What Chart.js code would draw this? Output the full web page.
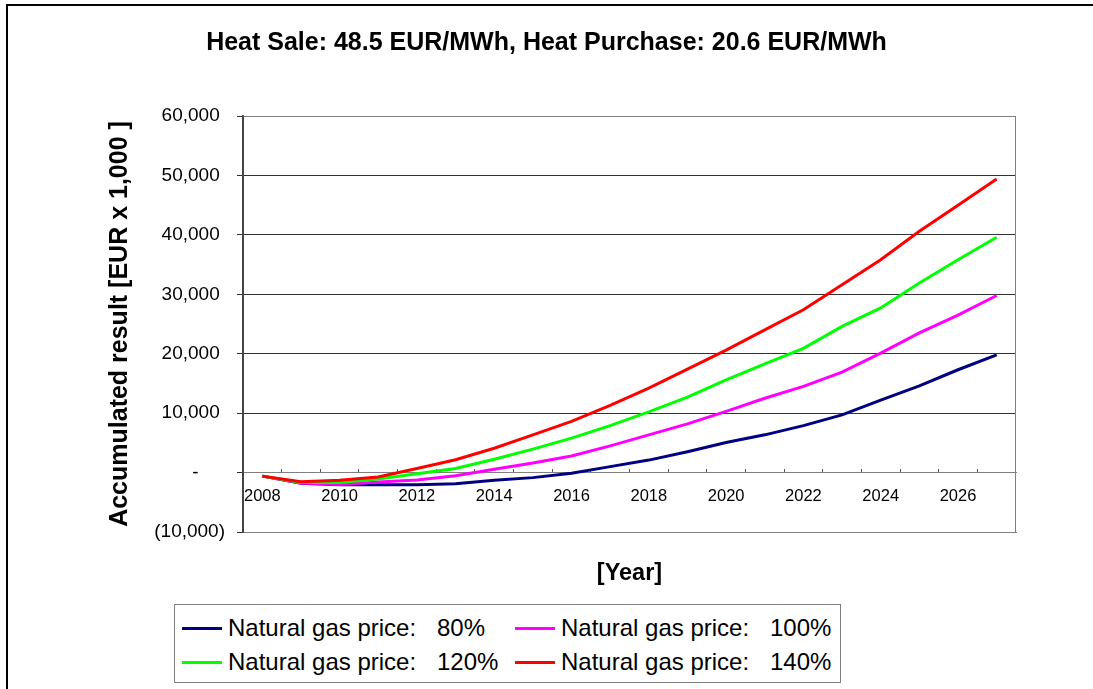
<!DOCTYPE html>
<html>
<head>
<meta charset="utf-8">
<script src="https://cdn.jsdelivr.net/npm/chart.js@4"></script>
<style>
  html, body { margin: 0; padding: 0; overflow: hidden; background: #fff; }
  #frame { position: absolute; left: 6px; top: 4px; width: 1200px; height: 800px; border: 2px solid #000; }
  #wrap { position: absolute; left: 0; top: 0; width: 1093px; height: 689px; }
  #legend {
    position: absolute; left: 174px; top: 604px; width: 665px; height: 77px;
    border: 1px solid #808080; background: #fff;
    font-family: "Liberation Sans", Arial, sans-serif; font-size: 24px; color: #000;
  }
  .item { position: absolute; height: 30px; }
  .swatch { position: absolute; left: 0; top: 14px; width: 40px; height: 3px; }
  .name { position: absolute; left: 46px; top: 0; line-height: 30px; white-space: nowrap; }
  .pct { position: absolute; left: 255px; top: 0; line-height: 30px; white-space: nowrap; }
</style>
</head>
<body>
<div id="frame"></div>
<div id="wrap"><canvas id="myChart"></canvas></div>
<div id="legend"></div>
<script>
const years = ["2008", "2009", "2010", "2011", "2012", "2013", "2014", "2015", "2016", "2017",
  "2018", "2019", "2020", "2021", "2022", "2023", "2024", "2025", "2026", "2027"];

const priceLevels = ["80%", "100%", "120%", "140%"];
const seriesColors = ["#000080", "#ff00ff", "#00ff00", "#ff0000"];

// accumulated result, EUR x 1,000
const gas80 = [-600, -1800, -2070, -2070, -2050, -1900, -1300, -850, -100, 1000,
  2100, 3500, 5050, 6350, 7900, 9700, 12200, 14600, 17300, 19800];
const gas100 = [-600, -1750, -2000, -1600, -1230, -550, 550, 1600, 2800, 4500,
  6350, 8200, 10300, 12500, 14500, 16900, 20100, 23500, 26500, 29800];
const gas120 = [-600, -1650, -1650, -1100, -200, 700, 2250, 3950, 5800, 7900,
  10200, 12700, 15600, 18300, 20900, 24600, 27700, 31900, 35800, 39600];
const gas140 = [-600, -1550, -1300, -750, 700, 2150, 4100, 6350, 8600, 11300,
  14200, 17400, 20600, 24000, 27400, 31600, 35800, 40600, 45000, 49400];

const yTicks = [-10000, 0, 10000, 20000, 30000, 40000, 50000, 60000];

const allSeries = [gas80, gas100, gas120, gas140];

function fmtNumber(v) {
  if (v === 0) return "-\u2007\u2007 ";
  const s = Math.abs(v).toLocaleString("en-US");
  return v < 0 ? "(" + s + ")" : s + " ";
}

// draws top and right edge of the plot area
const plotFrame = {
  id: "plotFrame",
  beforeDatasetsDraw(chart) {
    const { ctx, chartArea: a } = chart;
    ctx.save();
    ctx.strokeStyle = "#808080";
    ctx.lineWidth = 1;
    ctx.beginPath();
    ctx.moveTo(a.left, a.top + 0.5);
    ctx.lineTo(a.right - 0.5, a.top + 0.5);
    ctx.lineTo(a.right - 0.5, a.bottom);
    ctx.stroke();
    ctx.restore();
  },
};

Chart.defaults.font.family = '"Liberation Sans", Arial, sans-serif';
Chart.defaults.color = "#000";

const ctx = document.getElementById("myChart").getContext("2d");
const chart = new Chart(ctx, {
  type: "line",
  data: {
    labels: years,
    datasets: allSeries.map((data, i) => ({
      label: "Natural gas price:   " + priceLevels[i],
      data: data,
      borderColor: seriesColors[i],
      backgroundColor: seriesColors[i],
      borderWidth: 3,
      pointRadius: 0,
      tension: 0,
      order: allSeries.length - i,
      xAxisID: "x",
      yAxisID: "y",
    })),
  },
  options: {
    responsive: true,
    maintainAspectRatio: false,
    animation: false,
    layout: { padding: { left: 0, right: 0, top: 0, bottom: 100 } },
    plugins: {
      legend: { display: false },
      tooltip: { enabled: false },
      title: {
        display: true,
        text: "Heat Sale: 48.5 EUR/MWh, Heat Purchase: 20.6 EUR/MWh",
        font: { size: 25, weight: "bold" },
        padding: { top: 28, bottom: 58 },
      },
    },
    scales: {
      x: {
        type: "category",
        position: { y: 0 },
        offset: true,
        grid: {
          offset: true,
          drawOnChartArea: false,
          tickLength: -4,
          tickColor: "#555",
        },
        border: { color: "#808080", width: 1 },
        ticks: {
          autoSkip: false,
          maxRotation: 0,
          padding: 18,
          font: { size: 16.5 },
          callback: function (value, index) {
            return index % 2 === 0 ? this.getLabelForValue(value) : "";
          },
        },
      },
      x2: {
        type: "category",
        position: "bottom",
        labels: years,
        offset: true,
        grid: { display: false },
        ticks: { display: false },
        border: { color: "#808080", width: 1 },
        title: {
          display: true,
          text: "[Year]",
          font: { size: 23.5, weight: "bold" },
          padding: { top: 0, bottom: 1 },
        },
        afterFit: function (scale) {
          scale.height = 57;
        },
      },
      y: {
        min: -10000,
        max: 60000,
        afterBuildTicks: function (scale) {
          scale.ticks = yTicks.map((v) => ({ value: v }));
        },
        grid: {
          color: function (c) {
            const v = c.tick ? c.tick.value : null;
            return v === 60000 || v === -10000 || v === 0 ? "#808080" : "#333";
          },
          tickColor: "#333",
          tickLength: 6,
        },
        border: { color: "#444", width: 2 },
        ticks: {
          padding: 12,
          font: { size: 19 },
          callback: (v) => fmtNumber(v),
        },
        title: {
          display: true,
          text: "Accumulated result [EUR x 1,000 ]",
          font: { size: 25, weight: "bold" },
          padding: { top: 105, bottom: 0 },
        },
        afterFit: function (scale) {
          scale.width = 243;
        },
      },
      // empty right-hand box, keeps the plot area clear of the right margin
      yRight: {
        type: "linear",
        position: "right",
        min: -10000,
        max: 60000,
        grid: { display: false },
        ticks: { display: false },
        border: { display: false },
        afterFit: function (scale) {
          scale.width = 77;
        },
      },
    },
  },
  plugins: [plotFrame],
});

// html legend, two columns
const legendBox = document.getElementById("legend");
chart.data.datasets.forEach((ds, i) => {
  const item = document.createElement("div");
  item.className = "item";
  item.style.left = (i % 2 === 0 ? 7 : 340) + "px";
  item.style.top = (i < 2 ? 8 : 42) + "px";
  item.innerHTML =
    '<div class="swatch" style="background:' + ds.borderColor + '"></div>' +
    '<span class="name">Natural gas price:</span>' +
    '<span class="pct">' + priceLevels[i] + "</span>";
  legendBox.appendChild(item);
});
</script>
</body>
</html>
